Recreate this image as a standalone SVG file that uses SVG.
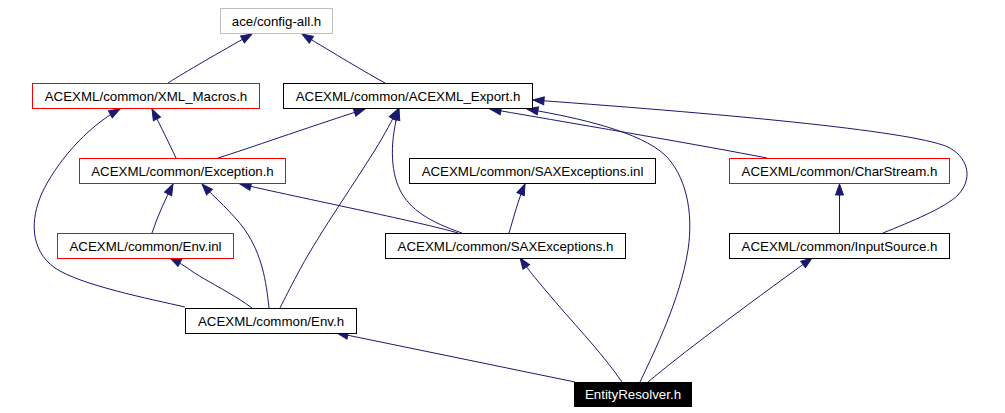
<svg xmlns="http://www.w3.org/2000/svg" width="1005" height="413" viewBox="0 0 1005 413">
<style>
.n rect{fill:#fff;stroke:#000;stroke-width:1}
.n.red rect{stroke:#ff0000}
.n.gray rect{stroke:#bfbfbf}
.n.cur rect{fill:#000;stroke:#000}
.n text{font-family:"Liberation Sans",Arial,sans-serif;font-size:13.3px;text-anchor:middle;fill:#000}
.n.cur text{fill:#fff}
.e path{fill:none;stroke:#191970;stroke-width:1;marker-end:url(#ah)}
</style>
<defs>
<marker id="ah" markerUnits="userSpaceOnUse" markerWidth="13" markerHeight="11" viewBox="0 0 13 11" refX="12" refY="5.5" orient="auto">
<path d="M1,1.5 L12,5.5 L1,9.5 z" fill="#191970" stroke="#191970" stroke-width="1"/>
</marker>
</defs>
<rect width="1005" height="413" fill="#fff"/>
<g id="edges" class="e">
<path d="M168,83 C 185,72 220,52 252,34"/>
<path d="M385,83 C 365,72 335,54 302,34"/>
<path d="M176,158 C 170,145 160,125 152,109"/>
<path d="M218,158 C 250,148 300,130 365,109"/>
<path d="M185,307 C 150,299 80,285 55,268 C 30,250 30,220 42,193 C 55,165 85,128 120,109"/>
<path d="M152,233 C 158,215 165,200 173,184"/>
<path d="M269,308 C 266,280 262,255 245,230 C 232,212 215,198 202,184"/>
<path d="M252,308 C 235,295 210,283 193,272 C 185,266 178,262 170,258"/>
<path d="M280,308 C 285,298 290,288 297,275 C 315,240 350,190 375,150 C 385,134 392,120 398,109"/>
<path d="M458,233 C 420,222 320,202 240,184"/>
<path d="M462,233 C 430,222 410,210 400,190 C 390,170 390,140 399,109"/>
<path d="M509,233 C 513,220 518,200 525,184"/>
<path d="M767,158 C 700,145 600,128 490,109"/>
<path d="M640,382 C 655,350 680,300 688,250 C 694,210 685,175 665,155 C 640,132 580,118 527,109"/>
<path d="M883,233 C 910,222 945,208 958,195 C 972,180 970,160 950,148 C 920,132 740,115 533,100"/>
<path d="M839.5,233 L839.5,184"/>
<path d="M648,382 C 680,355 740,310 812,258"/>
<path d="M622,382 C 600,350 570,320 547,292 C 535,278 527,268 520,258"/>
<path d="M575,382 L337,333"/>
</g>
<g id="node1" class="n gray"><rect x="220.5" y="8.5" width="112" height="25"/><text x="276.5" y="25.5">ace/config-all.h</text></g>
<g id="node2" class="n red"><rect x="32.5" y="83.5" width="227" height="25"/><text x="146" y="100.5">ACEXML/common/XML_Macros.h</text></g>
<g id="node3" class="n"><rect x="283.5" y="83.5" width="249" height="25"/><text x="408" y="100.5">ACEXML/common/ACEXML_Export.h</text></g>
<g id="node4" class="n red"><rect x="79.5" y="158.5" width="206" height="25"/><text x="182.5" y="175.5">ACEXML/common/Exception.h</text></g>
<g id="node5" class="n"><rect x="409.5" y="158.5" width="246" height="25"/><text x="532.5" y="175.5">ACEXML/common/SAXExceptions.inl</text></g>
<g id="node6" class="n red"><rect x="729.5" y="158.5" width="220" height="25"/><text x="839.5" y="175.5">ACEXML/common/CharStream.h</text></g>
<g id="node7" class="n red"><rect x="57.5" y="233.5" width="176" height="25"/><text x="145.5" y="250.5">ACEXML/common/Env.inl</text></g>
<g id="node8" class="n"><rect x="385.5" y="233.5" width="240" height="25"/><text x="505.5" y="250.5">ACEXML/common/SAXExceptions.h</text></g>
<g id="node9" class="n"><rect x="729.5" y="233.5" width="220" height="25"/><text x="839.5" y="250.5">ACEXML/common/InputSource.h</text></g>
<g id="node10" class="n"><rect x="185.5" y="308.5" width="171" height="25"/><text x="271" y="325.5">ACEXML/common/Env.h</text></g>
<g id="node11" class="n cur"><rect x="574.5" y="382.5" width="117" height="24"/><text x="633" y="399">EntityResolver.h</text></g>
</svg>
